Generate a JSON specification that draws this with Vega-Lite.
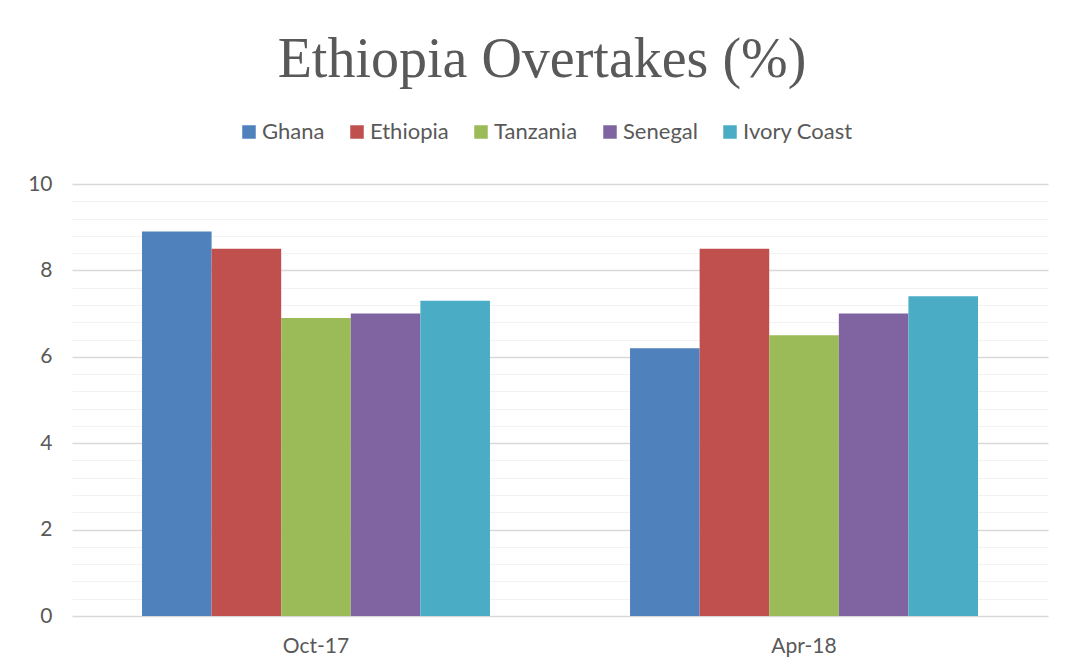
{
  "$schema": "https://vega.github.io/schema/vega-lite/v6.json",
  "width": 976,
  "height": 432,
  "autosize": {"type": "none"},
  "padding": {"left": 72, "top": 184, "right": 17, "bottom": 56},
  "background": "white",
  "title": {
    "text": "Ethiopia Overtakes (%)",
    "font": "Liberation Serif",
    "fontSize": 56,
    "fontWeight": "normal",
    "color": "#595959",
    "anchor": "middle",
    "frame": "group",
    "offset": 32,
    "dx": -18
  },
  "data": {
    "values": [
      {"period": "Oct-17", "country": "Ghana", "value": 8.9},
      {"period": "Oct-17", "country": "Ethiopia", "value": 8.5},
      {"period": "Oct-17", "country": "Tanzania", "value": 6.9},
      {"period": "Oct-17", "country": "Senegal", "value": 7.0},
      {"period": "Oct-17", "country": "Ivory Coast", "value": 7.3},
      {"period": "Apr-18", "country": "Ghana", "value": 6.2},
      {"period": "Apr-18", "country": "Ethiopia", "value": 8.5},
      {"period": "Apr-18", "country": "Tanzania", "value": 6.5},
      {"period": "Apr-18", "country": "Senegal", "value": 7.0},
      {"period": "Apr-18", "country": "Ivory Coast", "value": 7.4}
    ]
  },
  "mark": {"type": "bar"},
  "encoding": {
    "x": {
      "field": "period",
      "type": "nominal",
      "sort": ["Oct-17", "Apr-18"],
      "scale": {"paddingInner": 0.287, "paddingOuter": 0.1434},
      "axis": {
        "title": null,
        "domain": false,
        "ticks": false,
        "labelAngle": 0,
        "labelFont": "Lato",
        "labelFontSize": 21,
        "labelColor": "#595959",
        "labelPadding": 19,
        "grid": false
      }
    },
    "xOffset": {
      "field": "country",
      "type": "nominal",
      "sort": ["Ghana", "Ethiopia", "Tanzania", "Senegal", "Ivory Coast"],
      "scale": {"paddingInner": 0, "paddingOuter": 0}
    },
    "y": {
      "field": "value",
      "type": "quantitative",
      "scale": {"domain": [0, 10], "nice": false},
      "axis": {
        "title": null,
        "domain": false,
        "ticks": false,
        "format": "~g",
        "values": [0, 0.4, 0.8, 1.2, 1.6, 2, 2.4, 2.8, 3.2, 3.6, 4, 4.4, 4.8, 5.2, 5.6, 6, 6.4, 6.8, 7.2, 7.6, 8, 8.4, 8.8, 9.2, 9.6, 10],
        "labelExpr": "(abs(datum.value / 2 - round(datum.value / 2)) < 0.001) ? datum.label : ''",
        "labelFont": "Lato",
        "labelFontSize": 21,
        "labelColor": "#595959",
        "labelPadding": 20,
        "grid": true,
        "gridColor": {"condition": {"test": "abs(datum.value / 2 - round(datum.value / 2)) < 0.001", "value": "#d9d9d9"}, "value": "#f2f2f2"},
        "gridWidth": {"condition": {"test": "abs(datum.value / 2 - round(datum.value / 2)) < 0.001", "value": 1.5}, "value": 1.2}
      }
    },
    "color": {
      "field": "country",
      "type": "nominal",
      "scale": {
        "domain": ["Ghana", "Ethiopia", "Tanzania", "Senegal", "Ivory Coast"],
        "range": ["#4F81BD", "#C0504D", "#9BBB59", "#8064A2", "#4BACC6"]
      },
      "legend": {
        "title": null,
        "orient": "none",
        "direction": "horizontal",
        "legendX": 166,
        "legendY": -63,
        "symbolType": "square",
        "symbolSize": 182,
        "symbolStrokeWidth": 0,
        "symbolOpacity": 1,
        "labelFont": "Lato",
        "labelFontSize": 22,
        "labelColor": "#595959",
        "labelOffset": 2,
        "columnPadding": 21
      }
    }
  },
  "config": {
    "view": {"stroke": null}
  }
}
